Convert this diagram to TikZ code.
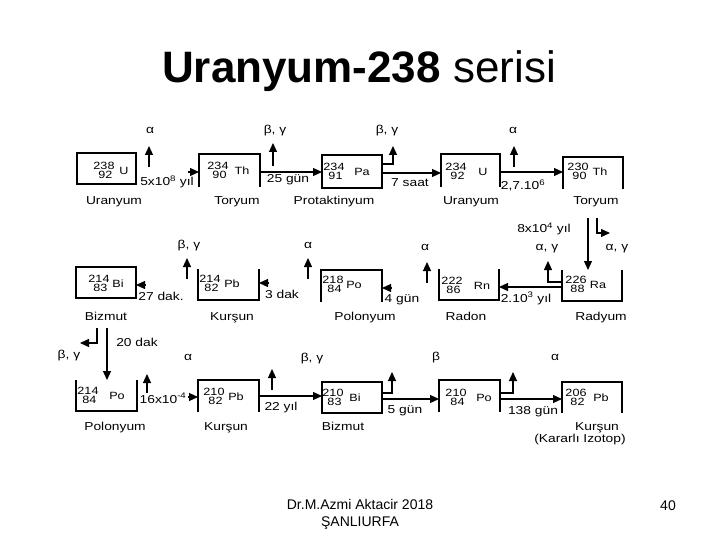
\documentclass[tikz,border=0pt]{standalone}
\usepackage{fontspec}
\setmainfont{Liberation Sans}
\newfontfamily\lab[FakeStretch=1.2]{Liberation Sans}
\usetikzlibrary{arrows.meta}
\newcommand\bx[5]{\node[bxs,minimum width={(#4)-(#2)},minimum height={(#5)-(#3)}] (#1) at ({((#2)+(#4))/2},{((#3)+(#5))/2}) {};}
\newcommand\nuc[7]{%
  \node[nu] (#1m) at (#2,{#3-0.5}) {#5};
  \node[nu] (#1z) at ({#2+1.5},{#3+9}) {#6};
  \node[nu] (#1s) at (#4,{#3+5}) {#7};}
\begin{document}
\begin{tikzpicture}[x=1pt,y=-1pt,
  bxs/.style={inner sep=0,outer sep=0,draw=none},
  ln/.style={line width=1.2pt},
  arr/.style={line width=1.2pt,-{Triangle[length=9pt,width=8pt]}},
  tx/.style={font=\lab\fontsize{11.5}{12}\selectfont,inner sep=0,text height=8.5pt,text depth=2.5pt},
  nu/.style={font=\lab\fontsize{10.5}{10.5}\selectfont,inner sep=0,text height=7.5pt,text depth=0pt}]
\fill[white] (0,0) rectangle (720,540);
\useasboundingbox (0,0) rectangle (720,540);
% title
\node[anchor=base,inner sep=0,font=\fontsize{44}{48}\selectfont] (title) at (359,83) {\textbf{Uranyum-238} serisi};
% boxes
\bx{u238}{77}{153}{136}{184}
\bx{th234}{199}{154}{260}{187}
\bx{pa234}{322}{155}{382}{188}
\bx{u234}{441}{154}{500}{187}
\bx{th230}{563}{157}{623}{189}
\bx{bi214}{76}{267}{136}{298}
\bx{pb214}{198}{269}{259}{300}
\bx{po218}{321}{270}{382}{302}
\bx{rn222}{439}{269}{499}{300}
\bx{ra226}{562}{270}{622}{301}
\bx{po214}{76}{380}{137}{411}
\bx{pb210}{198}{380}{259}{412}
\bx{bi210}{322}{382}{382}{413}
\bx{po210}{439}{380}{500}{412}
\bx{pb206}{562}{382}{622}{413}
% full boxes
\foreach \b in {u238,pa234,bi214,bi210}
  \draw[ln] (\b.north west) rectangle (\b.south east);
% open bottom
\foreach \b in {th234,u234,th230,po218,pb210,po210,pb206}
  \draw[ln] (\b.south west) |- (\b.north east) -- (\b.south east);
% open top
\foreach \b in {pb214,rn222,ra226,po214}
  \draw[ln] (\b.north west) |- (\b.south east) -- (\b.north east);
% nuclides
\nuc{a}{104}{166}{124}{238}{92}{U}
\nuc{b}{218}{166}{242}{234}{90}{Th}
\nuc{c}{334}{167}{362}{234}{91}{Pa}
\nuc{d}{456}{167}{483}{234}{92}{U}
\nuc{e}{578}{167}{600}{230}{90}{Th}
\nuc{f}{99}{279}{118}{214}{83}{Bi}
\nuc{g}{210}{279}{232}{214}{82}{Pb}
\nuc{h}{333}{280}{354}{218}{84}{Po}
\nuc{i}{452}{281}{482}{222}{86}{Rn}
\nuc{j}{576}{280}{598}{226}{88}{Ra}
\nuc{k}{88}{391}{117}{214}{84}{Po}
\nuc{l}{214}{392}{236}{210}{82}{Pb}
\nuc{m}{333}{393}{355}{210}{83}{Bi}
\nuc{n}{456}{393}{484}{210}{84}{Po}
\nuc{o}{576}{393}{601}{206}{82}{Pb}
% names
\node[tx] (l1) at (114,202) {Uranyum};
\node[tx] (l2) at (237,202) {Toryum};
\node[tx] (l3) at (334,202) {Protaktinyum};
\node[tx] (l4) at (471,202) {Uranyum};
\node[tx] (l5) at (596,202) {Toryum};
\node[tx] (l6) at (106,317) {Bizmut};
\node[tx] (l7) at (232,317) {Kurşun};
\node[tx] (l8) at (365,317) {Polonyum};
\node[tx] (l9) at (466,317) {Radon};
\node[tx] (l10) at (601,317) {Radyum};
\node[tx] (l11) at (115,427) {Polonyum};
\node[tx] (l12) at (226,427) {Kurşun};
\node[tx] (l13) at (343,427) {Bizmut};
\node[tx] (l14) at (597,427) {Kurşun};
\node[tx] (l15) at (580,439) {(Kararlı Izotop)};
% emission labels
\node[tx] (e1) at (150,131) {α};
\node[tx] (e2) at (275,131) {β, γ};
\node[tx] (e3) at (387,131) {β, γ};
\node[tx] (e4) at (513,131) {α};
\node[tx] (e5) at (617,248) {α, γ};
\node[tx] (e6) at (547,247) {α, γ};
\node[tx] (e7) at (425,247) {α};
\node[tx] (e8) at (308,245) {α};
\node[tx] (e9) at (189,245) {β, γ};
\node[tx] (e10) at (69,355) {β, γ};
\node[tx] (e11) at (188,357) {α};
\node[tx] (e12) at (312,358) {β, γ};
\node[tx] (e13) at (436,357) {β};
\node[tx] (e14) at (555,357) {α};
% half-life labels
\node[tx] (t1) at (167,183) {5x10\textsuperscript{8} yıl};
\node[tx] (t2) at (288,180) {25 gün};
\node[tx] (t3) at (410,184) {7 saat};
\node[tx] (t4) at (523,187) {2,7.10\textsuperscript{6}};
\node[tx] (t5) at (544,230) {8x10\textsuperscript{4} yıl};
\node[tx] (t6) at (526,299) {2.10\textsuperscript{3} yıl};
\node[tx] (t7) at (402,299) {4 gün};
\node[tx] (t8) at (282,295) {3 dak};
\node[tx] (t9) at (161,297) {27 dak.};
\node[tx] (t10) at (137,343) {20 dak};
\node[tx] (t11) at (163,400) {16x10\textsuperscript{-4}};
\node[tx] (t12) at (281,407) {22 yıl};
\node[tx] (t13) at (405,410) {5 gün};
\node[tx] (t14) at (533,411) {138 gün};
% row 1 connectors
\coordinate (h1) at (188,172);
\draw[arr] (h1) -- (h1 -| th234.west);
\draw[arr] (th234.east |- 0,172) -- (pa234.west |- 0,172);
\draw[arr] (pa234.east |- 0,173) -- (u234.west |- 0,173);
\draw[arr] (u234.east |- 0,172) -- (th230.west |- 0,172);
\draw[arr] (149,167) -- (149,146);
\draw[arr] (273,166) -- (273,143);
\draw[arr] (pa234.east |- 0,164) -- (393,164) -- (393,146);
\draw[arr] (514,167) -- (514,146);
% row 1 -> row 2
\draw[arr] (588,218) -- (ra226.north -| 588,0);
\coordinate (h2) at (610,233);
\draw[arr] (597,218) |- (h2);
% row 2 connectors
\draw[arr] (ra226.west |- 0,287) -- (rn222.east |- 0,287);
\draw[arr] (ra226.west |- 0,282) -| (548,261);
\draw[arr] (427,283) -- (427,262);
\coordinate (h3) at (391,288);
\draw[arr] (h3) -- (h3 -| po218.east);
\draw[arr] (308,279) -- (308,258);
\coordinate (h4) at (269,283);
\draw[arr] (h4) -- (h4 -| pb214.east);
\draw[arr] (187,279) -- (187,258);
\coordinate (h5) at (146,285);
\draw[arr] (h5) -- (h5 -| bi214.east);
% row 2 -> row 3
\draw[arr] (107,328) -- (po214.north -| 107,0);
\coordinate (h6) at (80,343);
\draw[arr] (97,328) |- (h6);
% row 3 connectors
\draw[arr] (147,393) -- (147,374);
\coordinate (h7) at (188,397);
\draw[arr] (h7) -- (h7 -| pb210.west);
\draw[arr] (pb210.east |- 0,396) -- (bi210.west |- 0,396);
\draw[arr] (272,390) -- (272,369);
\draw[arr] (bi210.east |- 0,399) -- (po210.west |- 0,399);
\draw[arr] (bi210.east |- 0,393) -| (392,372);
\draw[arr] (po210.east |- 0,399) -- (pb206.west |- 0,399);
\draw[arr] (po210.east |- 0,393) -| (513,372);
% footer
\node[align=center,inner sep=0,font=\fontsize{14}{17}\selectfont] (foot) at (360,514) {Dr.M.Azmi Aktacir 2018\\ŞANLIURFA};
\node[inner sep=0,font=\fontsize{14}{17}\selectfont] (page) at (668,506) {40};
\end{tikzpicture}
\end{document}
